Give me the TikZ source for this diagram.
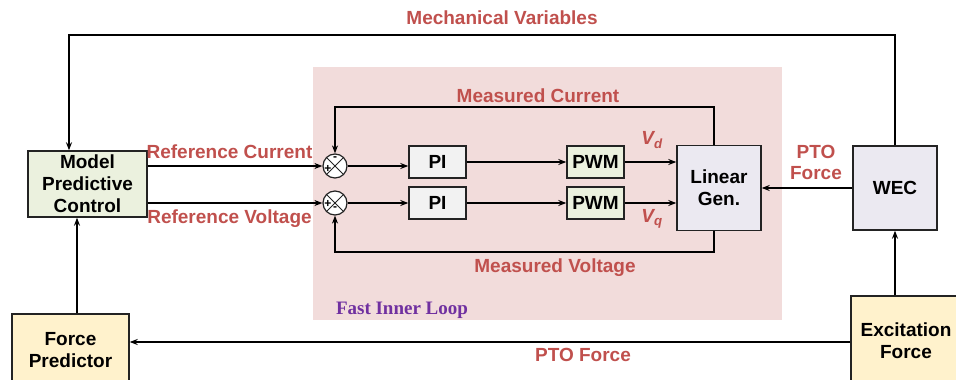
\documentclass[tikz,border=0pt]{standalone}
\usepackage{fontspec}
\setmainfont{Liberation Sans}
\newfontfamily\serifbf{Liberation Serif}
\usetikzlibrary{arrows.meta,positioning,calc}
\definecolor{rojo}{RGB}{192,80,77}
\definecolor{morado}{RGB}{112,48,160}
\definecolor{rosa}{RGB}{242,220,219}
\definecolor{verdec}{RGB}{235,241,222}
\definecolor{amarc}{RGB}{255,242,204}
\definecolor{lila}{RGB}{235,233,241}
\definecolor{grisc}{RGB}{242,242,242}
\definecolor{borde}{RGB}{35,35,35}
\tikzset{
  bloque/.style={draw=borde, line width=1.4pt, align=center, inner sep=2pt, font=\bfseries\fontsize{19}{22}\selectfont},
  suma/.style={draw=borde, line width=1.2pt, circle, fill=white, minimum size=24pt, inner sep=0pt,
    path picture={\draw[line width=1pt] (path picture bounding box.north west) -- (path picture bounding box.south east)
      (path picture bounding box.north east) -- (path picture bounding box.south west);}},
  sig/.style={font=\bfseries\fontsize{12}{12}\selectfont, inner sep=0pt},
  fl/.style={-{Stealth[length=8pt,width=6pt]}, line width=1.6pt},
  et/.style={text=rojo, font=\bfseries\fontsize{19}{21}\selectfont, align=center, inner sep=1pt},
}
\begin{document}
\begin{tikzpicture}[x=1pt, y=-1pt]
  \useasboundingbox (0,0) rectangle (956,380);
  % fast inner loop area
  \fill[rosa] (313,67) rectangle (782,320);
  \node[text=morado, font=\serifbf\bfseries\fontsize{19}{21}\selectfont] (fil) at (402,310) {Fast Inner Loop};

  % blocks
  \node[bloque, fill=verdec, minimum width=119pt, minimum height=66pt] (mpc) at (87.5,184) {Model\\Predictive\\Control};
  \node[bloque, fill=amarc, minimum width=117pt, minimum height=72pt] (fp) at (70.5,350) {Force\\Predictor};
  \node[suma] (s1) at (335,166) {};
  \node[suma] (s2) at (335,203) {};
  \node[bloque, fill=grisc, minimum width=57pt, minimum height=32pt] (pi1) at (437.5,162) {PI};
  \node[bloque, fill=grisc, minimum width=57pt, minimum height=32pt] (pi2) at (437.5,203) {PI};
  \node[bloque, fill=verdec, minimum width=57pt, minimum height=32pt] (pwm1) at (595.5,162) {PWM};
  \node[bloque, fill=verdec, minimum width=57pt, minimum height=32pt] (pwm2) at (595.5,203) {PWM};
  \node[bloque, fill=lila, minimum width=84pt, minimum height=85pt] (gen) at (719,188) {Linear\\Gen.};
  \node[bloque, fill=lila, minimum width=84pt, minimum height=84pt] (wec) at (895,188) {WEC};
  \node[bloque, fill=amarc, minimum width=110pt, minimum height=90pt] (exc) at (906,341) {Excitation\\Force};

  % connectors
  \coordinate (mv) at (69,35);
  \coordinate (mc) at (714,107);
  \coordinate (mvo) at (714,252);
  \draw[fl] (wec.north) |- (mv) -- (mv |- mpc.north);
  \draw[fl] ([xshift=6.5pt]fp.north) -- ([xshift=6.5pt]fp.north |- mpc.south);
  \draw[fl] (mpc.east |- s1) -- (s1.west);
  \draw[fl] (mpc.east |- s2) -- (s2.west);
  \draw[fl] (s1.east) -- (s1 -| pi1.west);
  \draw[fl] (s2.east) -- (pi2.west);
  \draw[fl] (pi1.east) -- (pwm1.west);
  \draw[fl] (pi2.east) -- (pwm2.west);
  \draw[fl] (pwm1.east) -- (pwm1.east -| gen.west);
  \draw[fl] (pwm2.east) -- (pwm2.east -| gen.west);
  \draw[fl] (mc |- gen.north) -- (mc) -| (s1.north);
  \draw[fl] (mvo |- gen.south) -- (mvo) -| (s2.south);
  \draw[fl] (wec.west) -- (gen.east);
  \draw[fl] (exc.north -| wec.south) -- (wec.south);
  \draw[fl] (exc.west |- 0,342) -- (fp.east |- 0,342);

  % signs
  \node[sig] at (335,159) {-};
  \node[sig] at (328,169) {+};
  \node[sig] at (328,204) {+};
  \node[sig] at (335,209) {-};

  % labels
  \node[et] (lmv) at (502,18) {Mechanical Variables};
  \node[et] (lrc) at (229.5,152) {Reference Current};
  \node[et] (lrv) at (229.5,219) {Reference Voltage};
  \node[et] (lmc) at (538,96) {Measured Current};
  \node[et] (lmvo) at (555,268) {Measured Voltage};
  \node[et] (lpto) at (816,162) {PTO\\Force};
  \node[et] (lpf) at (583,355) {PTO Force};
  \node[et] (lvd) at (652,140) {\itshape V\textsubscript{d}};
  \node[et] (lvq) at (652,219) {\itshape V\textsubscript{q}};
\end{tikzpicture}
\end{document}
